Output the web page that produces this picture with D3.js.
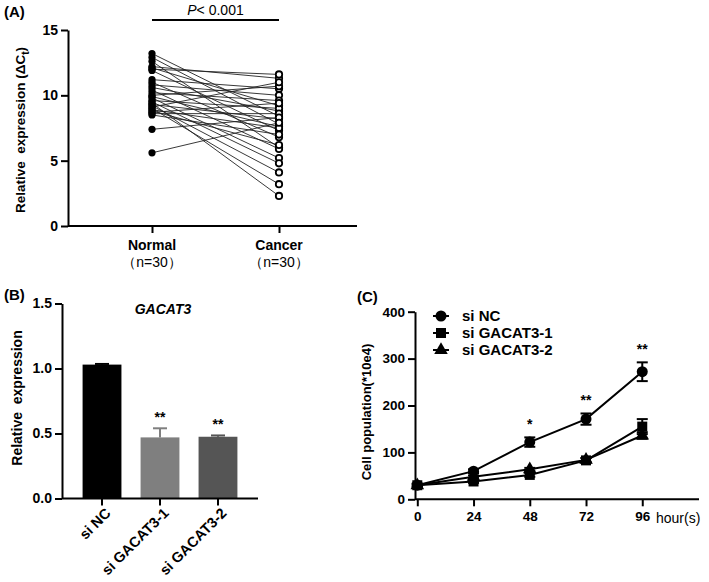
<!DOCTYPE html>
<html><head><meta charset="utf-8">
<script src="https://cdn.jsdelivr.net/npm/d3@7"></script>
<style>
body{margin:0;background:#fff;}
svg text{font-family:"Liberation Sans",Arial,sans-serif;}
</style></head><body>
<svg id="c" width="709" height="582"></svg>
<script>
// ---------- DATA ----------
// Panel A: paired values
const groupsA = ["Normal", "Cancer"];
const groupNA = ["（n=30）", "（n=30）"];
const normalVals = [13.2,12.9,12.6,12.2,12.1,12.0,11.9,11.2,11.0,10.8,10.6,10.4,10.2,10.0,9.9,9.8,9.6,9.5,9.4,9.3,9.2,9.1,9.0,8.9,8.8,8.7,8.6,8.5,7.4,5.6];
const cancerVals = [8.4,7.8,6.0,11.3,9.2,11.6,7.3,10.5,6.8,10.0,8.8,5.9,9.6,10.7,7.6,5.2,9.0,4.8,2.3,8.2,4.1,11.0,3.2,7.5,6.2,9.4,8.6,7.0,8.3,7.9];
const ticksA = [0,5,10,15];
// Panel B: bars
const catsB = ["si NC","si GACAT3-1","si GACAT3-2"];
const valsB = [1.03,0.47,0.475];
const errB = [0.005,0.07,0.01];
const sigB = ["","**","**"];
const ticksB = [0,0.5,1.0,1.5];
// Panel C: growth curves
const hoursC = [0,24,48,72,96];
const seriesNames = ["si NC","si GACAT3-1","si GACAT3-2"];
const siNC = [30,60,122,171,272];
const siNCerr = [3,4,10,12,20];
const siG1 = [30,38,52,83,155];
const siG1err = [3,3,4,5,16];
const siG2 = [30,48,64,84,136];
const siG2err = [3,3,3,4,7];
const sigC = ["","","*","**","**"];
const ticksCy = [0,100,200,300,400];

const svg = d3.select("#c");
const FONT = '"Liberation Sans",Arial,sans-serif';

function styleAxis(g){
  g.selectAll("path.domain").attr("stroke","#000").attr("stroke-width",2);
  g.selectAll(".tick line").attr("stroke","#000").attr("stroke-width",2);
  g.selectAll(".tick text").attr("fill","#000").attr("font-weight","bold").style("font-family",FONT);
}

// ---------- PANEL A ----------
{
  const y = d3.scaleLinear().domain([0,15]).range([226,30]);
  const x = d3.scalePoint().domain(groupsA).range([152,279]);
  const xl = 68, xr = 357;
  const ga = svg.append("g");
  const ya = ga.append("g").attr("transform",`translate(${xl},0)`)
    .call(d3.axisLeft(y).tickValues(ticksA).tickSize(7).tickSizeOuter(0).tickPadding(3));
  ya.selectAll(".tick text").attr("font-size",14);
  styleAxis(ya);
  const xa = ga.append("g").attr("transform",`translate(0,${y(0)})`)
    .call(d3.axisBottom(x).tickSize(7).tickSizeOuter(0).tickFormat(""));
  xa.select(".domain").attr("d",`M${xl},0H${xr}`);
  styleAxis(xa);
  groupsA.forEach((g,i)=>{
    ga.append("text").attr("x",x(g)).attr("y",250).attr("text-anchor","middle")
      .attr("font-size",14).attr("font-weight","bold").text(g);
    ga.append("text").attr("x",x(g)).attr("y",267).attr("text-anchor","middle")
      .attr("font-size",14).text(groupNA[i]);
  });
  normalVals.forEach((v,i)=>{
    ga.append("line").attr("x1",x("Normal")).attr("y1",y(v))
      .attr("x2",x("Cancer")).attr("y2",y(cancerVals[i]))
      .attr("stroke","#222").attr("stroke-width",0.9);
  });
  normalVals.forEach(v=>{
    ga.append("circle").attr("cx",x("Normal")).attr("cy",y(v)).attr("r",3.6).attr("fill","#000");
  });
  cancerVals.forEach(v=>{
    ga.append("circle").attr("cx",x("Cancer")).attr("cy",y(v)).attr("r",3.2)
      .attr("fill","#fff").attr("stroke","#000").attr("stroke-width",1.8);
  });
  ga.append("line").attr("x1",x("Normal")).attr("x2",x("Cancer")).attr("y1",20).attr("y2",20)
    .attr("stroke","#000").attr("stroke-width",2);
  const pt = ga.append("text").attr("x",(x("Normal")+x("Cancer"))/2).attr("y",15)
    .attr("text-anchor","middle").attr("font-size",14);
  pt.append("tspan").attr("font-style","italic").text("P");
  pt.append("tspan").text("< 0.001");
  const yl = ga.append("text").attr("transform","translate(25,130) rotate(-90)")
    .attr("text-anchor","middle").attr("font-size",13.5).attr("font-weight","bold");
  yl.append("tspan").text("Relative\u00a0 expression (ΔC");
  yl.append("tspan").attr("font-size",10).attr("dy",4).text("t");
  yl.append("tspan").attr("dy",-4).text(")");
  ga.append("text").attr("x",4).attr("y",17).attr("font-size",15).attr("font-weight","bold").text("(A)");
}

// ---------- PANEL B ----------
{
  const y = d3.scaleLinear().domain([0,1.5]).range([498.5,303.5]);
  const x = d3.scaleBand().domain(catsB).range([62,258]).paddingInner(0.33).paddingOuter(0.355);
  const gb = svg.append("g");
  const fills = ["#000000","#7f7f7f","#555555"];
  catsB.forEach((c,i)=>{
    gb.append("rect").attr("x",x(c)).attr("width",x.bandwidth())
      .attr("y",y(valsB[i])).attr("height",y(0)-y(valsB[i])).attr("fill",fills[i]);
    const cx = x(c)+x.bandwidth()/2;
    gb.append("line").attr("x1",cx).attr("x2",cx).attr("y1",y(valsB[i])).attr("y2",y(valsB[i]+errB[i]))
      .attr("stroke",fills[i]).attr("stroke-width",2);
    gb.append("line").attr("x1",cx-7).attr("x2",cx+7).attr("y1",y(valsB[i]+errB[i])).attr("y2",y(valsB[i]+errB[i]))
      .attr("stroke",fills[i]).attr("stroke-width",2);
    if(sigB[i]) gb.append("text").attr("x",cx).attr("y",y(valsB[i]+errB[i])-6)
      .attr("text-anchor","middle").attr("font-size",14).attr("font-weight","bold").text(sigB[i]);
  });
  const ya = gb.append("g").attr("transform","translate(62,0)")
    .call(d3.axisLeft(y).tickValues(ticksB).tickFormat(d3.format(".1f")).tickSize(7).tickSizeOuter(0).tickPadding(3));
  ya.selectAll(".tick text").attr("font-size",14);
  styleAxis(ya);
  const xa = gb.append("g").attr("transform",`translate(0,${y(0)})`)
    .call(d3.axisBottom(x).tickSize(7).tickSizeOuter(0));
  xa.select(".domain").attr("d","M62,0H258");
  styleAxis(xa);
  xa.selectAll(".tick text").attr("font-size",14.5).attr("text-anchor","end")
    .attr("transform","translate(6,12) rotate(-45)").attr("dy","0.35em").attr("y",0).attr("x",0);
  gb.append("text").attr("x",163).attr("y",314).attr("text-anchor","middle")
    .attr("font-size",14).attr("font-weight","bold").attr("font-style","italic").text("GACAT3");
  gb.append("text").attr("transform","translate(22,398) rotate(-90)").attr("text-anchor","middle")
    .attr("font-size",14).attr("font-weight","bold").text("Relative\u00a0 expression");
  gb.append("text").attr("x",4).attr("y",300).attr("font-size",15).attr("font-weight","bold").text("(B)");
}

// ---------- PANEL C ----------
{
  const y = d3.scaleLinear().domain([0,400]).range([499.3,311.7]);
  const x = d3.scaleLinear().domain([0,120]).range([417.3,698.5]);
  const gc = svg.append("g");
  const ya = gc.append("g").attr("transform","translate(415,0)")
    .call(d3.axisLeft(y).tickValues(ticksCy).tickSize(7).tickSizeOuter(0).tickPadding(3));
  ya.selectAll(".tick text").attr("font-size",13.5);
  styleAxis(ya);
  const xa = gc.append("g").attr("transform",`translate(0,${y(0)})`)
    .call(d3.axisBottom(x).tickValues(hoursC).tickSize(7).tickSizeOuter(0).tickPadding(5));
  xa.select(".domain").attr("d","M415,0H699");
  xa.selectAll(".tick text").attr("font-size",13.5);
  styleAxis(xa);
  gc.append("text").attr("x",656).attr("y",523).attr("font-size",14).text("hour(s)");
  gc.append("text").attr("transform","translate(371,412) rotate(-90)").attr("text-anchor","middle")
    .attr("font-size",13).attr("font-weight","bold").text("Cell population(*10e4)");
  gc.append("text").attr("x",357).attr("y",302).attr("font-size",15).attr("font-weight","bold").text("(C)");

  const series = [
    {name:seriesNames[0], vals:siNC, err:siNCerr, sym:d3.symbolCircle, size:95},
    {name:seriesNames[1], vals:siG1, err:siG1err, sym:d3.symbolSquare, size:100},
    {name:seriesNames[2], vals:siG2, err:siG2err, sym:d3.symbolTriangle, size:80}
  ];
  const line = d3.line().x((d,i)=>x(hoursC[i])).y(d=>y(d));
  series.slice().reverse().forEach(s=>{
    gc.append("path").attr("d",line(s.vals)).attr("fill","none").attr("stroke","#000").attr("stroke-width",2);
    s.vals.forEach((v,i)=>{
      const cx = x(hoursC[i]);
      const e = s.err[i];
      gc.append("line").attr("x1",cx).attr("x2",cx).attr("y1",y(v-e)).attr("y2",y(v+e)).attr("stroke","#000").attr("stroke-width",2);
      [v-e,v+e].forEach(t=>gc.append("line").attr("x1",cx-5.5).attr("x2",cx+5.5).attr("y1",y(t)).attr("y2",y(t))
        .attr("stroke","#000").attr("stroke-width",2));
      gc.append("path").attr("d",d3.symbol().type(s.sym).size(s.size)()).attr("transform",`translate(${cx},${y(v)})`).attr("fill","#000");
    });
  });
  hoursC.forEach((h,i)=>{
    if(sigC[i]) gc.append("text").attr("x",x(h)).attr("y",y(siNC[i]+siNCerr[i])-8).attr("text-anchor","middle")
      .attr("font-size",14).attr("font-weight","bold").text(sigC[i]);
  });
  series.forEach((s,i)=>{
    const ly = 316 + i*17;
    gc.append("line").attr("x1",433).attr("x2",449).attr("y1",ly).attr("y2",ly).attr("stroke","#000").attr("stroke-width",2);
    gc.append("path").attr("d",d3.symbol().type(s.sym).size(s.size)()).attr("transform",`translate(441,${ly})`).attr("fill","#000");
    gc.append("text").attr("x",462).attr("y",ly+5).attr("font-size",15).attr("font-weight","bold").text(s.name);
  });
}
</script>
</body></html>
